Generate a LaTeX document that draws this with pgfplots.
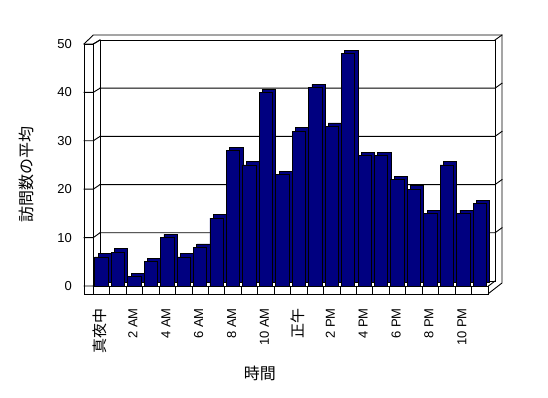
\documentclass[border=0pt]{standalone}
\usepackage{pgfplots}
\pgfplotsset{compat=1.18}
\usepackage{fontspec}
\setmainfont{Liberation Sans}
\newfontfamily\jp{Noto Sans CJK JP}
\definecolor{navybar}{RGB}{0,0,128}
\pgfplotstableread{
x y
0 6
1 7
2 2
3 5
4 10
5 6
6 8
7 14
8 28
9 25
10 40
11 23
12 32
13 41
14 33
15 48
16 27
17 27
18 22
19 20
20 15
21 25
22 15
23 17
}\visits
\begin{document}
\begin{tikzpicture}[x=1pt,y=1pt]
\useasboundingbox (0,0) rectangle (548,398);
% 3D frame (walls, floor) in pixel coordinates measured from top
\begin{scope}[shift={(0pt,398pt)}, yscale=-1, line width=0.9pt, line cap=rect]
  % back wall inner rectangle
  \draw (100,40) -- (100,281) -- (495,281) -- (495,40) -- cycle;
  % wall thickness outer edges
  \draw (84,44) -- (93.3,35) -- (502,35) -- (502,283) -- (488.5,293.5);
  \draw (93.3,44) -- (100,40);
  \draw (495,40) -- (502,35);
  % left wall
  \draw (84,44) -- (84,294);
  \draw (84,44) -- (93.3,44) -- (93.3,286);
  % floor
  \draw (84,294) -- (488.5,294) -- (488.5,286) -- (93.3,286);
  \draw (93.3,286) -- (100,281);
  \draw (488.5,286) -- (495,281);
  \foreach \k in {0,...,24} {
    \draw ({93.3+16.446*\k},286) -- ({93.3+16.446*\k},294);
  }
  % gridlines and ticks across the left wall
  \foreach \v in {0,10,20,30,40,50} {
    \draw (84,{286-4.84*\v}) -- (93.3,{286-4.84*\v}) -- (100,{281-4.82*\v});
  }
  \foreach \v in {10,20,30,40} {
    \draw (100,{281-4.82*\v}) -- (495,{281-4.82*\v}) -- (502,{276-4.82*\v});
  }
\end{scope}
\begin{axis}[
  at={(93.3pt,112pt)}, anchor=south west,
  scale only axis, width=394.7pt, height=242pt,
  xmin=-0.5, xmax=23.5, ymin=0, ymax=50,
  axis line style={draw=none}, major tick length=0pt,
  clip=false,
  ytick={0,10,20,30,40,50},
  xtick={0,2,...,22},
  xticklabels={{\jp\fontsize{15}{15}\selectfont 真夜中},2 AM,4 AM,6 AM,8 AM,10 AM,{\jp\fontsize{15}{15}\selectfont 正午},2 PM,4 PM,6 PM,8 PM,10 PM},
  /pgf/number format/assume math mode=true,
  yticklabel style={anchor=east, inner sep=0pt, xshift=-21.3pt, font=\fontsize{13}{13}\selectfont},
  xticklabel style={yshift=-22pt, xshift=-1.5pt, rotate=90, anchor=east, inner sep=0pt, font=\fontsize{13}{13}\selectfont},
  xlabel={\jp 時間}, ylabel={\jp 訪問数の平均},
  xlabel style={at={(rel axis cs:0.422,-0.36)}, anchor=center, inner sep=0pt, font=\fontsize{16}{16}\selectfont},
  ylabel style={at={(rel axis cs:-0.1705,0.459)}, anchor=center, rotate=0, inner sep=0pt, font=\fontsize{16}{16}\selectfont},
]
\addplot[ybar, bar width=13.3pt, bar shift=0pt, xshift=3.3pt, yshift=3.3pt, fill=navybar, draw=black, line width=0.9pt] table[x=x,y=y] {\visits};
\addplot[ybar, bar width=13.3pt, bar shift=0pt, fill=navybar, draw=black, line width=0.9pt] table[x=x,y=y] {\visits};
\end{axis}
\end{tikzpicture}
\end{document}
